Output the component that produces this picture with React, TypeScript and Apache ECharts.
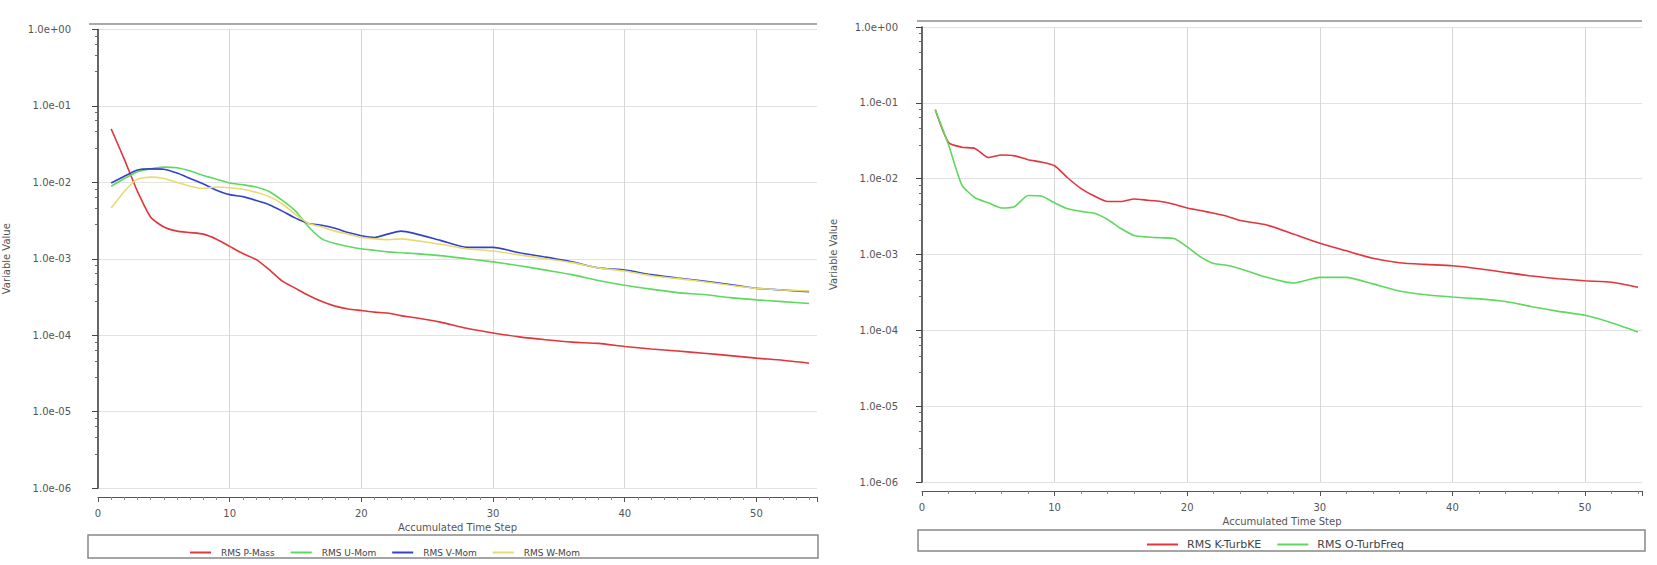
import React, { useEffect, useRef } from "react";
import * as echarts from "echarts";

// Accumulated time steps (shared by both monitors)
const steps = [
  1, 2, 3, 4, 5, 6, 7, 8, 9, 10, 11, 12, 13, 14, 15, 16, 17, 18, 19, 20, 21, 22, 23, 24,
  26, 28, 30, 32, 34, 36, 38, 40, 42, 44, 46, 48, 50, 52, 54,
];

// Left monitor: momentum and mass
const rmsPMass = [
  5.0e-2, 2.0e-2, 7.6e-3, 3.5e-3, 2.6e-3, 2.3e-3, 2.2e-3, 2.1e-3, 1.8e-3, 1.45e-3, 1.17e-3, 9.8e-4,
  7.2e-4, 5.1e-4, 4.1e-4, 3.3e-4, 2.75e-4, 2.4e-4, 2.2e-4, 2.1e-4, 2.0e-4, 1.95e-4, 1.8e-4, 1.7e-4,
  1.48e-4, 1.23e-4, 1.07e-4, 9.5e-5, 8.7e-5, 8.1e-5, 7.8e-5, 7.1e-5, 6.6e-5, 6.2e-5, 5.8e-5, 5.4e-5,
  5.0e-5, 4.7e-5, 4.3e-5,
];
const rmsUMom = [
  8.9e-3, 1.12e-2, 1.38e-2, 1.5e-2, 1.58e-2, 1.55e-2, 1.41e-2, 1.23e-2, 1.1e-2, 9.8e-3, 9.3e-3, 8.7e-3,
  7.6e-3, 5.8e-3, 4.2e-3, 2.6e-3, 1.82e-3, 1.58e-3, 1.45e-3, 1.35e-3, 1.29e-3, 1.23e-3, 1.2e-3, 1.17e-3,
  1.1e-3, 1.0e-3, 9.1e-4, 8.1e-4, 7.1e-4, 6.2e-4, 5.2e-4, 4.5e-4, 4.0e-4, 3.6e-4, 3.4e-4, 3.1e-4,
  2.9e-4, 2.75e-4, 2.6e-4,
];
const rmsVMom = [
  9.8e-3, 1.2e-2, 1.45e-2, 1.5e-2, 1.48e-2, 1.32e-2, 1.12e-2, 9.5e-3, 7.9e-3, 6.9e-3, 6.5e-3, 5.8e-3,
  5.1e-3, 4.2e-3, 3.4e-3, 2.9e-3, 2.75e-3, 2.5e-3, 2.2e-3, 2.0e-3, 1.9e-3, 2.1e-3, 2.3e-3, 2.15e-3,
  1.74e-3, 1.41e-3, 1.41e-3, 1.2e-3, 1.05e-3, 9.1e-4, 7.6e-4, 7.1e-4, 6.2e-4, 5.6e-4, 5.1e-4, 4.6e-4,
  4.1e-4, 3.9e-4, 3.7e-4,
];
const rmsWMom = [
  4.6e-3, 7.6e-3, 1.1e-2, 1.17e-2, 1.12e-2, 1.0e-2, 8.9e-3, 8.3e-3, 8.7e-3, 8.5e-3, 8.1e-3, 7.4e-3,
  6.5e-3, 5.2e-3, 3.8e-3, 2.9e-3, 2.6e-3, 2.3e-3, 2.1e-3, 1.9e-3, 1.82e-3, 1.78e-3, 1.82e-3, 1.74e-3,
  1.55e-3, 1.35e-3, 1.26e-3, 1.12e-3, 1.0e-3, 8.9e-4, 7.6e-4, 6.9e-4, 6.0e-4, 5.5e-4, 5.0e-4, 4.5e-4,
  4.1e-4, 3.9e-4, 3.8e-4,
];

// Right monitor: turbulence
const rmsKTurbKE = [
  8.1e-2, 3.0e-2, 2.6e-2, 2.5e-2, 1.9e-2, 2.05e-2, 2.0e-2, 1.78e-2, 1.66e-2, 1.48e-2, 1.02e-2, 7.4e-3,
  5.9e-3, 5.0e-3, 5.0e-3, 5.4e-3, 5.2e-3, 5.0e-3, 4.6e-3, 4.1e-3, 3.8e-3, 3.5e-3, 3.2e-3, 2.8e-3,
  2.45e-3, 1.86e-3, 1.41e-3, 1.12e-3, 8.9e-4, 7.8e-4, 7.4e-4, 7.1e-4, 6.5e-4, 5.8e-4, 5.2e-4, 4.8e-4,
  4.5e-4, 4.3e-4, 3.7e-4,
];
const rmsOTurbFreq = [
  8.1e-2, 2.8e-2, 8.3e-3, 5.6e-3, 4.8e-3, 4.1e-3, 4.3e-3, 6.0e-3, 5.9e-3, 4.8e-3, 4.0e-3, 3.7e-3,
  3.5e-3, 2.9e-3, 2.2e-3, 1.78e-3, 1.7e-3, 1.66e-3, 1.62e-3, 1.26e-3, 9.3e-4, 7.6e-4, 7.2e-4, 6.5e-4,
  5.0e-4, 4.2e-4, 5.0e-4, 5.0e-4, 4.1e-4, 3.3e-4, 2.95e-4, 2.75e-4, 2.6e-4, 2.4e-4, 2.05e-4, 1.78e-4,
  1.58e-4, 1.26e-4, 9.5e-5,
];

const leftNames = ["RMS P-Mass", "RMS U-Mom", "RMS V-Mom", "RMS W-Mom"];
const rightNames = ["RMS K-TurbKE", "RMS O-TurbFreq"];
const xTitle = "Accumulated Time Step";
const yTitle = "Variable Value";

const RED = "#e0363c";
const GREEN = "#5ed85e";
const BLUE = "#3442c8";
const YELLOW = "#e6dc6e";

const FONT = "DejaVu Sans";

function expLabel(v: number): string {
  const e = Math.round(Math.log10(v));
  const sign = e < 0 ? "-" : "+";
  return "1.0e" + sign + String(Math.abs(e)).padStart(2, "0");
}

export default function App() {
  const ref = useRef<HTMLDivElement>(null);

  useEffect(() => {
    if (!ref.current) return;
    const chart = echarts.init(ref.current, undefined, { renderer: "svg" });

    const mkY = (gridIndex: number, offset: number, nameGap: number) => ({
      type: "log",
      logBase: 10,
      gridIndex,
      min: 1e-6,
      max: 1,
      splitNumber: 6,
      offset,
      name: yTitle,
      nameLocation: "middle",
      nameGap,
      nameRotate: 90,
      nameTextStyle: { fontFamily: FONT, fontSize: 10, color: "#555" },
      axisLine: { show: true, lineStyle: { color: "#333", width: 1.5 } },
      axisTick: { show: true, length: 6, lineStyle: { color: "#444" } },
      minorTick: { show: true, splitNumber: 5, length: 3, lineStyle: { color: "#666" } },
      axisLabel: {
        formatter: expLabel,
        fontFamily: FONT,
        fontSize: 10,
        color: "#555",
        margin: 19,
      },
      splitLine: { show: true, lineStyle: { color: "#e2e2e2", width: 1 } },
    });

    const mkX = (gridIndex: number, max: number, minorSplit: number) => ({
      type: "value",
      gridIndex,
      min: 0,
      max,
      interval: 10,
      offset: 9,
      name: xTitle,
      nameLocation: "middle",
      nameGap: 23,
      nameTextStyle: { fontFamily: FONT, fontSize: 10, color: "#555" },
      axisLine: { show: true, onZero: false, lineStyle: { color: "#555", width: 1 } },
      axisTick: { show: true, length: 5, lineStyle: { color: "#555" } },
      minorTick: { show: true, splitNumber: minorSplit, length: 3, lineStyle: { color: "#888" } },
      axisLabel: {
        fontFamily: FONT,
        fontSize: 10,
        color: "#555",
        margin: 11,
        showMaxLabel: false,
      },
      splitLine: {
        show: true,
        showMinLine: false,
        showMaxLine: false,
        lineStyle: { color: "#d6d6d6", width: 1 },
      },
    });

    const pts = (vals: number[]) => steps.map((s, i) => [s, vals[i]]);

    const line = (name: string, color: string, vals: number[], idx: number) => ({
      name,
      type: "line",
      xAxisIndex: idx,
      yAxisIndex: idx,
      data: pts(vals),
      showSymbol: false,
      symbol: "none",
      smooth: 0.2,
      lineStyle: { color, width: 1.6 },
      itemStyle: { color },
    });

    chart.setOption({
      animation: false,
      backgroundColor: "#ffffff",
      grid: [
        { left: 97, top: 29.5, width: 720, height: 458.5, containLabel: false },
        { left: 922, top: 27, width: 720, height: 455, containLabel: false },
      ],
      xAxis: [mkX(0, 54.6, 10), mkX(1, 54.3, 5)],
      yAxis: [mkY(0, 8, 79), mkY(1, 5, 79)],
      legend: [
        {
          data: leftNames,
          left: 185,
          top: 543,
          itemWidth: 21,
          itemHeight: 2,
          icon: "rect",
          itemGap: 16,
          textStyle: { fontFamily: FONT, fontSize: 9, color: "#444", padding: [0, 0, 0, 5] },
        },
        {
          data: rightNames,
          left: 1142,
          top: 534,
          itemWidth: 31,
          itemHeight: 2,
          icon: "rect",
          itemGap: 16,
          textStyle: { fontFamily: FONT, fontSize: 11, color: "#444", padding: [0, 0, 0, 4] },
        },
      ],
      graphic: [
        {
          type: "line",
          shape: { x1: 89, y1: 24, x2: 817, y2: 24 },
          style: { stroke: "#aaa", lineWidth: 2 },
        },
        {
          type: "line",
          shape: { x1: 917, y1: 21, x2: 1642, y2: 21 },
          style: { stroke: "#aaa", lineWidth: 2 },
        },
        {
          type: "rect",
          shape: { x: 88, y: 535, width: 730, height: 23 },
          style: { fill: "none", stroke: "#888", lineWidth: 1.5 },
          z: -1,
        },
        {
          type: "rect",
          shape: { x: 918, y: 530, width: 727, height: 21 },
          style: { fill: "none", stroke: "#888", lineWidth: 1.5 },
          z: -1,
        },
      ],
      series: [
        line(leftNames[0], RED, rmsPMass, 0),
        line(leftNames[1], GREEN, rmsUMom, 0),
        line(leftNames[2], BLUE, rmsVMom, 0),
        line(leftNames[3], YELLOW, rmsWMom, 0),
        line(rightNames[0], RED, rmsKTurbKE, 1),
        line(rightNames[1], GREEN, rmsOTurbFreq, 1),
      ],
    });

    return () => chart.dispose();
  }, []);

  return (
    <div
      ref={ref}
      style={{ position: "fixed", left: 0, top: 0, width: 1657, height: 565, background: "#fff" }}
    />
  );
}
